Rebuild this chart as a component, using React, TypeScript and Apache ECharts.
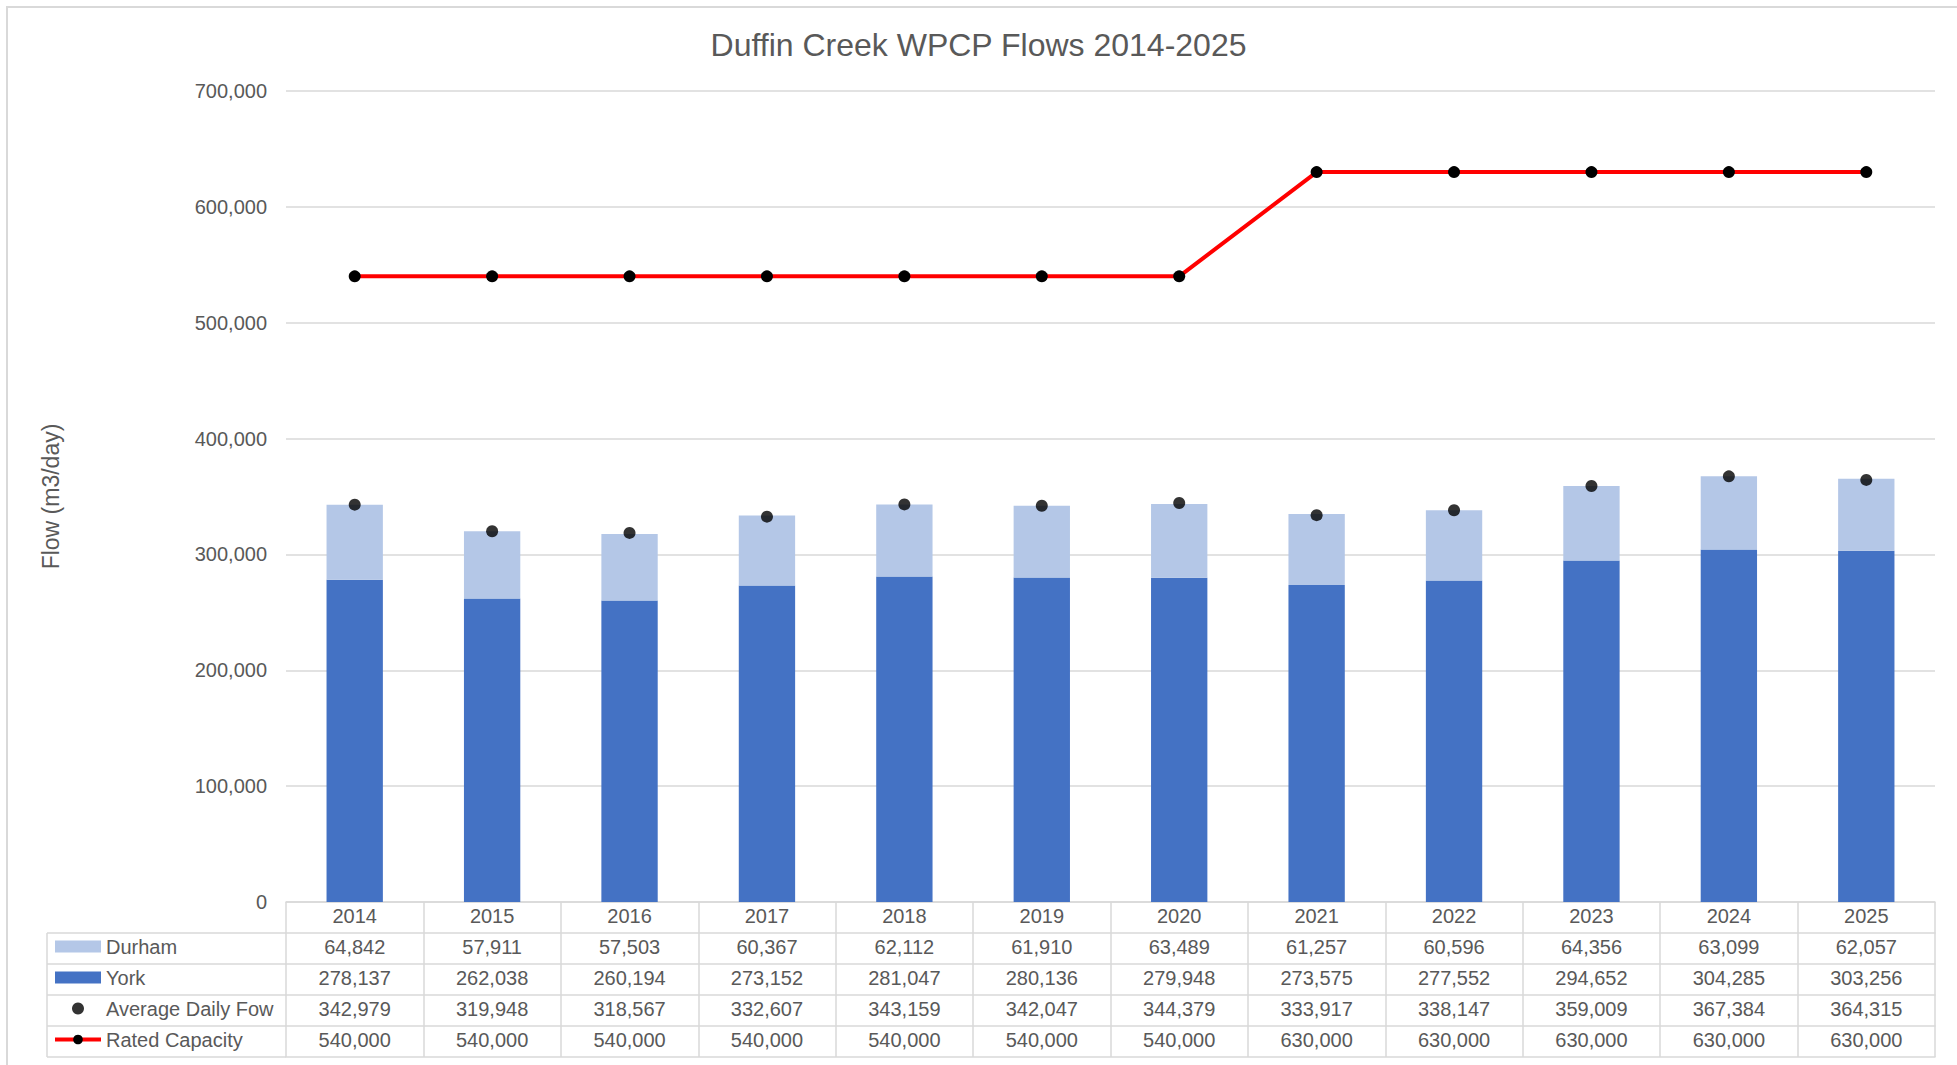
import React, { useEffect, useRef } from "react";
import * as echarts from "echarts";

const years = ["2014", "2015", "2016", "2017", "2018", "2019", "2020", "2021", "2022", "2023", "2024", "2025"];
const durham = [64842, 57911, 57503, 60367, 62112, 61910, 63489, 61257, 60596, 64356, 63099, 62057];
const york = [278137, 262038, 260194, 273152, 281047, 280136, 279948, 273575, 277552, 294652, 304285, 303256];
const avgDaily = [342979, 319948, 318567, 332607, 343159, 342047, 344379, 333917, 338147, 359009, 367384, 364315];
const ratedCap = [540000, 540000, 540000, 540000, 540000, 540000, 540000, 630000, 630000, 630000, 630000, 630000];
const seriesNames = ["Durham", "York", "Average Daily Fow", "Rated Capacity"];
const yMin = 0;
const yMax = 700000;
const yStep = 100000;

const FONT = "'Liberation Sans', Arial, sans-serif";
const TEXT = "#595959";
const GRID = "#D9D9D9";
const ROW = 31;

const fmt = (v: number) => v.toLocaleString("en-US");

function tableAxis(values: string[], offset: number, showLabel = true, showTick = true) {
  return {
    type: "category",
    position: "bottom",
    offset,
    data: values,
    boundaryGap: true,
    axisLine: { show: true, lineStyle: { color: GRID, width: 1.5 } },
    axisTick: { show: showTick, interval: 0, length: ROW, lineStyle: { color: GRID, width: 1.5 } },
    axisLabel: { show: showLabel, interval: 0, margin: 4, color: TEXT, fontSize: 20, fontFamily: FONT },
    splitLine: { show: false },
  };
}

export default function App() {
  const ref = useRef<HTMLDivElement>(null);
  useEffect(() => {
    if (!ref.current) return;
    const chart = echarts.init(ref.current, null, { renderer: "svg" });
    const gridBottomY = 902;
    const tableLeft = 47;
    const plotLeft = 286;
    const lines: any[] = [];
    for (let k = 1; k <= 5; k++) {
      const y = gridBottomY + ROW * k;
      lines.push({
        type: "line",
        shape: { x1: tableLeft, y1: y, x2: plotLeft, y2: y },
        style: { stroke: GRID, lineWidth: 1.5 },
      });
    }
    lines.push({
      type: "line",
      shape: { x1: tableLeft, y1: gridBottomY + ROW, x2: tableLeft, y2: gridBottomY + ROW * 5 },
      style: { stroke: GRID, lineWidth: 1.5 },
    });
    chart.setOption({
      animation: false,
      backgroundColor: "#ffffff",
      title: {
        text: "Duffin Creek WPCP Flows 2014-2025",
        left: "center",
        top: 24,
        textStyle: { color: TEXT, fontSize: 32, fontWeight: "normal", fontFamily: FONT },
      },
      grid: { left: plotLeft, right: 22, top: 91, bottom: 1065 - gridBottomY, containLabel: false },
      legend: {
        orient: "vertical",
        left: 53,
        top: gridBottomY + ROW - 2,
        padding: 0,
        itemGap: 0,
        itemWidth: 46,
        itemHeight: 12,
        selectedMode: false,
        textStyle: { color: TEXT, fontSize: 20, fontFamily: FONT, lineHeight: ROW },
        data: [
          { name: seriesNames[0], icon: "rect" },
          { name: seriesNames[1], icon: "rect" },
          { name: seriesNames[2], icon: "circle" },
          { name: seriesNames[3], lineStyle: { width: 4, color: "#FF0000" } },
        ],
      },
      xAxis: [
        tableAxis(years, 0),
        tableAxis(durham.map(fmt), ROW),
        tableAxis(york.map(fmt), ROW * 2),
        tableAxis(avgDaily.map(fmt), ROW * 3),
        tableAxis(ratedCap.map(fmt), ROW * 4),
        tableAxis(years.map(() => ""), ROW * 5, false, false),
      ],
      yAxis: {
        type: "value",
        min: yMin,
        max: yMax,
        interval: yStep,
        name: "Flow (m3/day)",
        nameLocation: "middle",
        nameGap: 224,
        nameTextStyle: { color: TEXT, fontSize: 23, fontFamily: FONT },
        axisLine: { show: false },
        axisTick: { show: false },
        axisLabel: { color: TEXT, fontSize: 20, fontFamily: FONT, margin: 19, formatter: (v: number) => fmt(v) },
        splitLine: { lineStyle: { color: GRID, width: 1.5 } },
      },
      series: [
        {
          name: seriesNames[1],
          type: "bar",
          stack: "flow",
          barWidth: "41%",
          data: york,
          itemStyle: { color: "#4472C4" },
          z: 2,
        },
        {
          name: seriesNames[0],
          type: "bar",
          stack: "flow",
          barWidth: "41%",
          data: durham,
          itemStyle: { color: "#B4C7E7" },
          z: 2,
        },
        {
          name: seriesNames[2],
          type: "scatter",
          data: avgDaily,
          symbol: "circle",
          symbolSize: 12,
          itemStyle: { color: "#000000" },
          z: 4,
        },
        {
          name: seriesNames[3],
          type: "line",
          data: ratedCap,
          symbol: "circle",
          symbolSize: 12,
          lineStyle: { color: "#FF0000", width: 4 },
          itemStyle: { color: "#000000" },
          z: 5,
        },
      ],
      graphic: [
        {
          type: "rect",
          shape: { x: 7, y: 7, width: 1980, height: 1080 },
          style: { fill: "none", stroke: GRID, lineWidth: 2 },
          silent: true,
        },
        ...lines,
      ],
    });
    return () => chart.dispose();
  }, []);
  return <div ref={ref} style={{ position: "absolute", left: 0, top: 0, width: 1957, height: 1065 }} />;
}
